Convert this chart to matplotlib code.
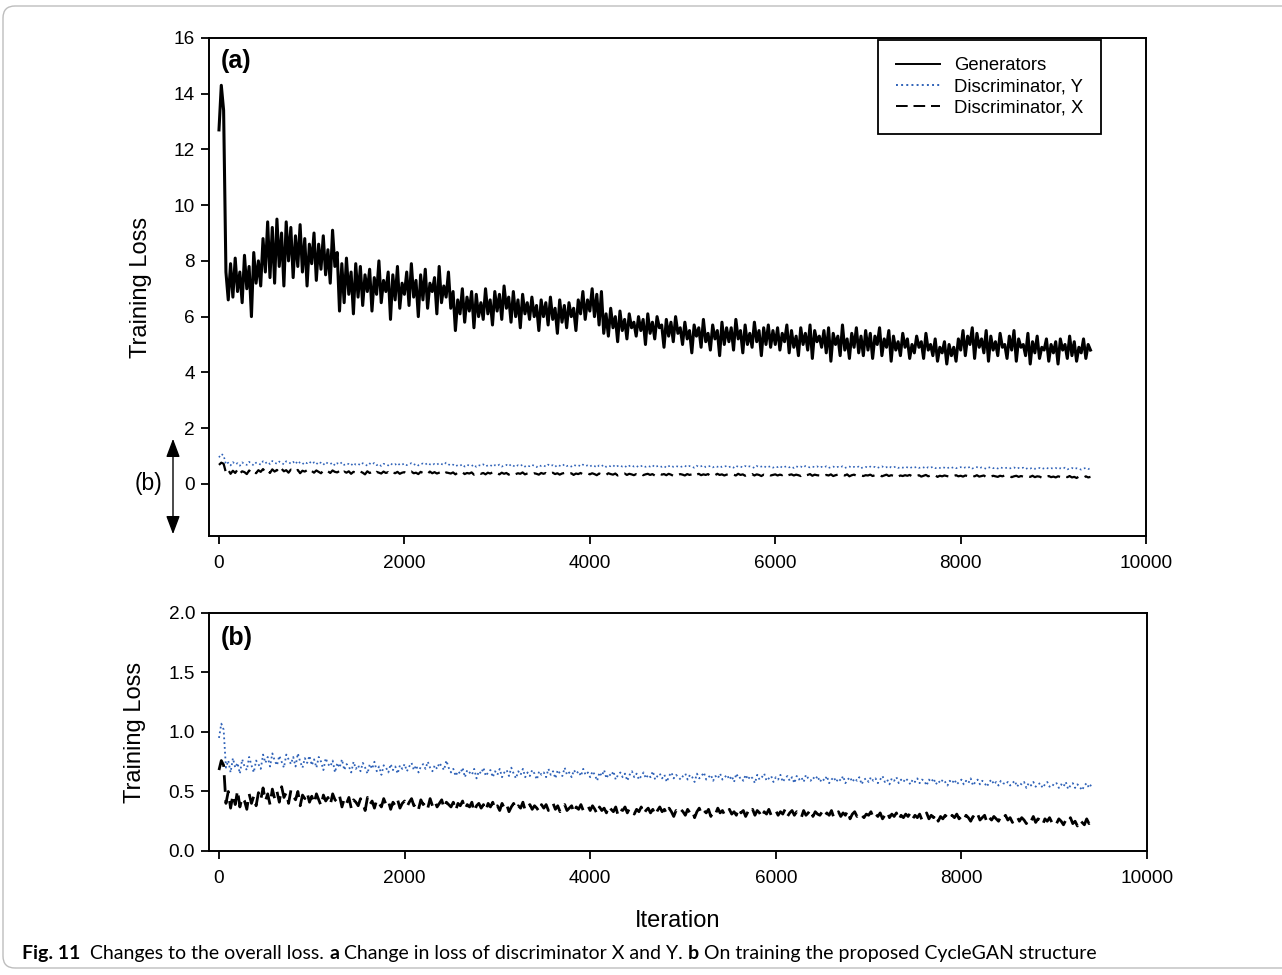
import matplotlib.pyplot as plt
import numpy as np
from matplotlib.patches import FancyArrowPatch, FancyBboxPatch

plt.rcParams["font.family"] = ["Liberation Sans", "DejaVu Sans"]

# iterations sampled every 25 steps, 0 .. 9400
iterations = np.arange(0, 9401, 25)

generators = [
    12.7, 14.3, 13.4, 7.6, 6.6, 7.9, 6.7, 8.1, 6.9, 7.6, 6.5, 8.2, 7.0, 7.8, 6.0, 8.3, 7.2, 8.0, 7.1, 8.8,
    7.6, 9.4, 7.4, 9.2, 7.2, 9.5, 7.8, 9.0, 7.1, 9.4, 8.0, 9.2, 7.4, 8.9, 7.8, 9.3, 7.6, 8.8, 7.1, 8.6,
    7.9, 9.0, 7.3, 8.6, 7.7, 8.9, 7.5, 8.4, 7.2, 9.1, 7.8, 8.3, 6.2, 7.9, 6.5, 8.1, 6.8, 7.6, 6.1, 7.9,
    6.7, 7.8, 6.4, 7.5, 6.9, 7.7, 6.2, 7.4, 6.8, 8.0, 6.5, 7.3, 6.9, 7.6, 5.9, 7.5, 6.6, 7.8, 6.3, 7.2,
    6.8, 7.6, 6.4, 7.9, 6.7, 7.3, 6.0, 7.5, 6.6, 7.7, 6.3, 7.2, 6.9, 7.4, 6.1, 7.8, 6.5, 7.1, 6.7, 7.6,
    6.3, 6.9, 5.5, 6.6, 6.1, 7.0, 5.8, 6.7, 6.2, 6.9, 5.6, 6.8, 6.0, 6.5, 5.9, 7.0, 6.1, 6.6, 5.7, 6.9,
    6.2, 6.8, 5.9, 7.1, 6.3, 6.7, 5.8, 6.9, 6.0, 6.6, 5.6, 6.8, 6.1, 6.5, 5.9, 6.7, 6.0, 6.4, 5.5, 6.6,
    6.0, 6.5, 5.7, 6.7, 5.9, 6.3, 5.4, 6.6, 5.8, 6.4, 5.6, 6.5, 6.0, 6.3, 5.5, 6.6, 6.1, 6.9, 5.9, 6.6,
    6.2, 7.0, 6.0, 6.8, 5.7, 6.9, 5.4, 6.1, 5.3, 6.3, 5.6, 6.0, 5.1, 6.2, 5.5, 5.9, 5.2, 6.1, 5.6, 5.8,
    5.3, 6.0, 5.5, 5.9, 5.0, 6.1, 5.4, 5.8, 5.2, 6.0, 5.6, 5.7, 4.9, 5.9, 5.3, 5.8, 5.1, 6.0, 5.4, 5.6,
    5.0, 5.8, 5.2, 5.5, 4.7, 5.7, 5.3, 5.6, 4.9, 5.9, 5.1, 5.4, 4.8, 5.7, 5.2, 5.5, 4.6, 5.8, 5.0, 5.6,
    5.1, 5.6, 4.8, 5.9, 5.2, 5.5, 4.7, 5.7, 5.0, 5.4, 4.9, 5.8, 5.1, 5.5, 4.6, 5.6, 5.0, 5.7, 4.9, 5.5,
    5.0, 5.6, 4.8, 5.4, 5.1, 5.7, 4.7, 5.5, 4.9, 5.3, 4.6, 5.6, 5.0, 5.4, 4.8, 5.7, 4.5, 5.5, 5.1, 5.3,
    4.9, 5.5, 4.7, 5.6, 4.4, 5.4, 5.0, 5.3, 4.6, 5.7, 4.8, 5.2, 4.5, 5.4, 4.9, 5.6, 4.7, 5.3, 4.6, 5.5,
    4.8, 5.4, 4.5, 5.3, 5.0, 5.6, 4.6, 5.2, 4.9, 5.5, 4.4, 5.3, 4.8, 5.1, 4.6, 5.4, 4.9, 5.2, 4.5, 5.0,
    4.7, 5.3, 4.9, 5.1, 4.5, 5.4, 4.8, 5.0, 4.6, 5.2, 4.4, 4.9, 4.7, 5.1, 4.3, 5.0, 4.6, 4.9, 4.4, 5.2,
    4.8, 5.5, 4.6, 5.3, 5.0, 5.6, 4.5, 5.4, 4.9, 5.2, 4.7, 5.5, 4.4, 5.3, 4.8, 5.1, 4.6, 5.4, 4.9, 5.0,
    4.5, 5.3, 4.8, 5.5, 4.4, 5.2, 4.9, 5.0, 4.6, 5.4, 4.3, 5.1, 4.7, 5.3, 4.5, 4.9, 4.8, 5.2, 4.4, 5.0,
    4.7, 5.1, 4.3, 5.2, 4.8, 5.0, 4.5, 5.3, 4.6, 5.1, 4.4, 4.9, 4.7, 5.2, 4.5, 5.0, 4.8,
]

disc_y = [
    0.95, 1.07, 1.02, 0.70, 0.76, 0.66, 0.78, 0.70, 0.74, 0.65, 0.77, 0.71, 0.68, 0.79, 0.72, 0.66, 0.76, 0.73, 0.69, 0.81,
    0.74, 0.79, 0.71, 0.82, 0.76, 0.72, 0.80, 0.75, 0.70, 0.81, 0.77, 0.73, 0.79, 0.71, 0.82, 0.75, 0.70, 0.78, 0.74, 0.80,
    0.72, 0.77, 0.70, 0.79, 0.75, 0.68, 0.78, 0.73, 0.71, 0.76, 0.66, 0.74, 0.70, 0.77, 0.68, 0.73, 0.71, 0.66, 0.75, 0.69,
    0.72, 0.67, 0.74, 0.70, 0.65, 0.73, 0.69, 0.75, 0.67, 0.71, 0.64, 0.72, 0.70, 0.66, 0.73, 0.68, 0.71, 0.65, 0.72, 0.69,
    0.73, 0.67, 0.71, 0.74, 0.68, 0.72, 0.66, 0.71, 0.73, 0.69, 0.75, 0.70, 0.67, 0.72, 0.69, 0.74, 0.71, 0.68, 0.76, 0.70,
    0.66, 0.69, 0.63, 0.67, 0.65, 0.70, 0.62, 0.68, 0.66, 0.64, 0.69, 0.61, 0.67, 0.65, 0.70, 0.63, 0.66, 0.68, 0.62, 0.67,
    0.64, 0.69, 0.62, 0.66, 0.68, 0.63, 0.70, 0.65, 0.61, 0.67, 0.64, 0.69, 0.62, 0.66, 0.63, 0.68, 0.65, 0.60, 0.67, 0.64,
    0.66, 0.62, 0.69, 0.64, 0.67, 0.61, 0.68, 0.65, 0.63, 0.70, 0.64, 0.66, 0.62, 0.68, 0.65, 0.67, 0.63, 0.69, 0.64, 0.66,
    0.62, 0.67, 0.64, 0.59, 0.66, 0.63, 0.68, 0.61, 0.65, 0.63, 0.67, 0.60, 0.64, 0.66, 0.62, 0.65, 0.59, 0.64, 0.67, 0.62,
    0.65, 0.60, 0.63, 0.66, 0.61, 0.64, 0.62, 0.67, 0.60, 0.63, 0.65, 0.61, 0.64, 0.58, 0.63, 0.66, 0.61, 0.64, 0.62, 0.60,
    0.63, 0.65, 0.60, 0.64, 0.62, 0.58, 0.65, 0.61, 0.63, 0.66, 0.60, 0.62, 0.64, 0.59, 0.63, 0.61, 0.65, 0.60, 0.62, 0.64,
    0.60, 0.63, 0.58, 0.65, 0.61, 0.62, 0.59, 0.64, 0.60, 0.63, 0.61, 0.57, 0.64, 0.60, 0.62, 0.65, 0.59, 0.61, 0.63, 0.58,
    0.62, 0.60, 0.64, 0.58, 0.61, 0.63, 0.59, 0.62, 0.57, 0.63, 0.60, 0.62, 0.58, 0.64, 0.61, 0.59, 0.62, 0.60, 0.63, 0.58,
    0.61, 0.59, 0.63, 0.57, 0.60, 0.62, 0.58, 0.61, 0.59, 0.63, 0.57, 0.60, 0.62, 0.58, 0.61, 0.59, 0.62, 0.56, 0.60, 0.61,
    0.58, 0.62, 0.59, 0.61, 0.57, 0.60, 0.63, 0.58, 0.60, 0.56, 0.61, 0.59, 0.62, 0.57, 0.60, 0.58, 0.61, 0.59, 0.56, 0.60,
    0.58, 0.61, 0.57, 0.60, 0.59, 0.55, 0.60, 0.58, 0.61, 0.56, 0.59, 0.57, 0.60, 0.58, 0.55, 0.59, 0.57, 0.60, 0.56, 0.58,
    0.60, 0.56, 0.59, 0.57, 0.61, 0.55, 0.58, 0.60, 0.56, 0.59, 0.57, 0.54, 0.58, 0.60, 0.56, 0.58, 0.55, 0.59, 0.57, 0.56,
    0.58, 0.55, 0.57, 0.59, 0.54, 0.57, 0.56, 0.58, 0.53, 0.57, 0.55, 0.58, 0.54, 0.56, 0.57, 0.53, 0.56, 0.58, 0.54, 0.56,
    0.55, 0.57, 0.53, 0.56, 0.54, 0.58, 0.52, 0.55, 0.57, 0.53, 0.56, 0.54, 0.51, 0.55, 0.57, 0.53, 0.56,
]

disc_x = [
    0.68, 0.76, 0.72, 0.40, 0.50, 0.36, 0.47, 0.39, 0.51, 0.37, 0.45, 0.42, 0.35, 0.48, 0.40, 0.46, 0.38, 0.49, 0.43, 0.53,
    0.42, 0.48, 0.39, 0.52, 0.44, 0.50, 0.41, 0.54, 0.45, 0.49, 0.40, 0.51, 0.46, 0.43, 0.50, 0.38, 0.47, 0.44, 0.49, 0.41,
    0.46, 0.40, 0.48, 0.43, 0.38, 0.47, 0.42, 0.45, 0.39, 0.48, 0.43, 0.41, 0.46, 0.37, 0.44, 0.40, 0.45, 0.36, 0.43, 0.41,
    0.38, 0.44, 0.40, 0.34, 0.45, 0.39, 0.42, 0.36, 0.43, 0.40, 0.37, 0.44, 0.39, 0.42, 0.35, 0.41, 0.38, 0.43, 0.36, 0.40,
    0.42, 0.37, 0.41, 0.44, 0.38, 0.40, 0.35, 0.43, 0.39, 0.41, 0.36, 0.44, 0.38, 0.42, 0.37, 0.40, 0.43, 0.36, 0.41, 0.39,
    0.37, 0.41, 0.34, 0.40, 0.38, 0.42, 0.35, 0.39, 0.37, 0.41, 0.33, 0.38, 0.40, 0.36, 0.39, 0.34, 0.40, 0.37, 0.41, 0.35,
    0.38, 0.34, 0.40, 0.36, 0.39, 0.33, 0.37, 0.40, 0.35, 0.38, 0.36, 0.41, 0.34, 0.37, 0.39, 0.35, 0.38, 0.36, 0.33, 0.39,
    0.36, 0.39, 0.34, 0.37, 0.40, 0.35, 0.38, 0.33, 0.37, 0.39, 0.34, 0.36, 0.38, 0.32, 0.37, 0.35, 0.39, 0.34, 0.36, 0.38,
    0.34, 0.38, 0.35, 0.31, 0.37, 0.34, 0.36, 0.32, 0.38, 0.35, 0.33, 0.37, 0.30, 0.35, 0.34, 0.37, 0.32, 0.36, 0.34, 0.31,
    0.35, 0.33, 0.37, 0.31, 0.34, 0.36, 0.32, 0.35, 0.30, 0.34, 0.37, 0.33, 0.35, 0.31, 0.36, 0.33, 0.29, 0.34, 0.32, 0.35,
    0.33, 0.30, 0.35, 0.32, 0.34, 0.28, 0.33, 0.36, 0.31, 0.34, 0.32, 0.35, 0.29, 0.33, 0.31, 0.36, 0.32, 0.34, 0.30, 0.33,
    0.35, 0.31, 0.33, 0.30, 0.36, 0.32, 0.34, 0.29, 0.33, 0.31, 0.35, 0.30, 0.34, 0.32, 0.28, 0.33, 0.31, 0.35, 0.30, 0.32,
    0.34, 0.30, 0.33, 0.31, 0.35, 0.29, 0.32, 0.34, 0.30, 0.33, 0.31, 0.28, 0.34, 0.30, 0.32, 0.35, 0.29, 0.33, 0.31, 0.30,
    0.33, 0.29, 0.32, 0.30, 0.34, 0.28, 0.31, 0.33, 0.29, 0.32, 0.30, 0.34, 0.27, 0.31, 0.33, 0.29, 0.32, 0.30, 0.28, 0.31,
    0.30, 0.33, 0.28, 0.31, 0.29, 0.32, 0.27, 0.30, 0.33, 0.28, 0.31, 0.29, 0.32, 0.26, 0.30, 0.28, 0.31, 0.29, 0.32, 0.27,
    0.30, 0.28, 0.31, 0.26, 0.29, 0.32, 0.27, 0.30, 0.28, 0.31, 0.25, 0.29, 0.27, 0.30, 0.28, 0.26, 0.30, 0.28, 0.31, 0.27,
    0.29, 0.26, 0.30, 0.28, 0.25, 0.29, 0.27, 0.31, 0.26, 0.28, 0.30, 0.24, 0.28, 0.26, 0.29, 0.27, 0.25, 0.29, 0.27, 0.30,
    0.26, 0.28, 0.24, 0.27, 0.29, 0.25, 0.28, 0.26, 0.23, 0.27, 0.25, 0.29, 0.24, 0.27, 0.26, 0.22, 0.27, 0.25, 0.28, 0.24,
    0.26, 0.23, 0.27, 0.25, 0.22, 0.26, 0.24, 0.28, 0.23, 0.25, 0.21, 0.26, 0.24, 0.22, 0.27, 0.23, 0.25,
]

x_ticks = [0, 2000, 4000, 6000, 8000, 10000]
top_y_ticks = [0, 2, 4, 6, 8, 10, 12, 14, 16]
bottom_y_ticks = [0.0, 0.5, 1.0, 1.5, 2.0]

caption_parts = [
    ("Fig. 11", "bold"),
    ("  Changes to the overall loss. ", "normal"),
    ("a", "bold"),
    (" Change in loss of discriminator X and Y. ", "normal"),
    ("b", "bold"),
    (" On training the proposed CycleGAN structure", "normal"),
]

BLUE = "#2f62b8"
DASH = (0, (6, 3))


def style_axes(ax):
    for spine in ax.spines.values():
        spine.set_linewidth(1.4)
        spine.set_color("black")
    ax.tick_params(direction="out", length=6, width=1.3, labelsize=13.7, pad=4)
    ax.tick_params(axis="x", pad=8)
    ax.set_xlim(-108, 10000)
    ax.set_xticks(x_ticks)


fig = plt.figure(figsize=(12.82, 9.75), dpi=100)

# rounded frame around the whole figure
frame = FancyBboxPatch(
    (0.03, 0.07), 13.5, 9.62,
    boxstyle="round,pad=0,rounding_size=0.12",
    transform=fig.dpi_scale_trans,
    facecolor="none", edgecolor="#bdbdbd", linewidth=1.0,
)
fig.add_artist(frame)

ax_a = fig.add_axes([0.163, 0.4503, 0.731, 0.5108])
ax_a.plot(iterations, generators, color="black", linewidth=2.2, label="Generators")
ax_a.plot(iterations, disc_y, color=BLUE, linestyle=":", linewidth=1.2, label="Discriminator, Y")
ax_a.plot(iterations, disc_x, color="black", linestyle=DASH, linewidth=1.6, label="Discriminator, X")
style_axes(ax_a)
ax_a.set_ylim(-1.87, 16)
ax_a.set_yticks(top_y_ticks)
ax_a.set_ylabel("Training Loss", fontsize=17)
ax_a.yaxis.set_label_coords(-0.061, 0.5)
ax_a.text(0.013, 0.978, "(a)", transform=ax_a.transAxes, fontsize=18,
          fontweight="bold", va="top", ha="left")
leg = ax_a.legend(loc="upper right", bbox_to_anchor=(0.952, 0.996), borderaxespad=0,
                  fontsize=13.3, frameon=True, fancybox=False, framealpha=1,
                  handlelength=2.4, labelspacing=0.22, borderpad=0.95, handletextpad=0.75)
leg.get_frame().set_edgecolor("black")
leg.get_frame().set_linewidth(1.3)
for line in leg.get_lines():
    line.set_linewidth(1.4)

ax_b = fig.add_axes([0.163, 0.1272, 0.7317, 0.2441])
ax_b.plot(iterations, disc_y, color=BLUE, linestyle=":", linewidth=1.3)
ax_b.plot(iterations, disc_x, color="black", linestyle=DASH, linewidth=2.0)
style_axes(ax_b)
ax_b.set_ylim(0, 2.0)
ax_b.set_yticks(bottom_y_ticks)
ax_b.set_yticklabels([f"{v:.1f}" for v in bottom_y_ticks])
ax_b.set_ylabel("Training Loss", fontsize=17)
ax_b.yaxis.set_label_coords(-0.067, 0.5)
ax_b.set_xlabel("Iteration", fontsize=17, labelpad=16)
ax_b.text(0.013, 0.945, "(b)", transform=ax_b.transAxes, fontsize=18,
          fontweight="bold", va="top", ha="left")

# "(b)" marker with the double arrow next to the top panel
fig.text(148 / 1282, 1 - 484 / 975, "(b)", fontsize=16.5, ha="center", va="center")
arrow = FancyArrowPatch(
    (173 / 1282, 1 - 436 / 975), (173 / 1282, 1 - 537 / 975),
    transform=fig.transFigure, arrowstyle="<|-|>,head_width=0.3,head_length=0.8",
    mutation_scale=14, color="black", linewidth=1.0,
)
fig.add_artist(arrow)

# caption with bold fragments, each piece placed after the previous one
cap_font = dict(fontsize=14.0, family=["Lato", "DejaVu Sans"])
prev = None
for text, weight in caption_parts:
    if prev is None:
        prev = fig.text(22 / 1282, 1 - 962 / 975, text, fontweight=weight,
                        va="bottom", ha="left", **cap_font)
    else:
        prev = ax_b.annotate(text, xy=(1, 0), xycoords=prev, va="bottom", ha="left",
                             fontweight=weight, annotation_clip=False, **cap_font)

fig.savefig("out.png", dpi=100)
